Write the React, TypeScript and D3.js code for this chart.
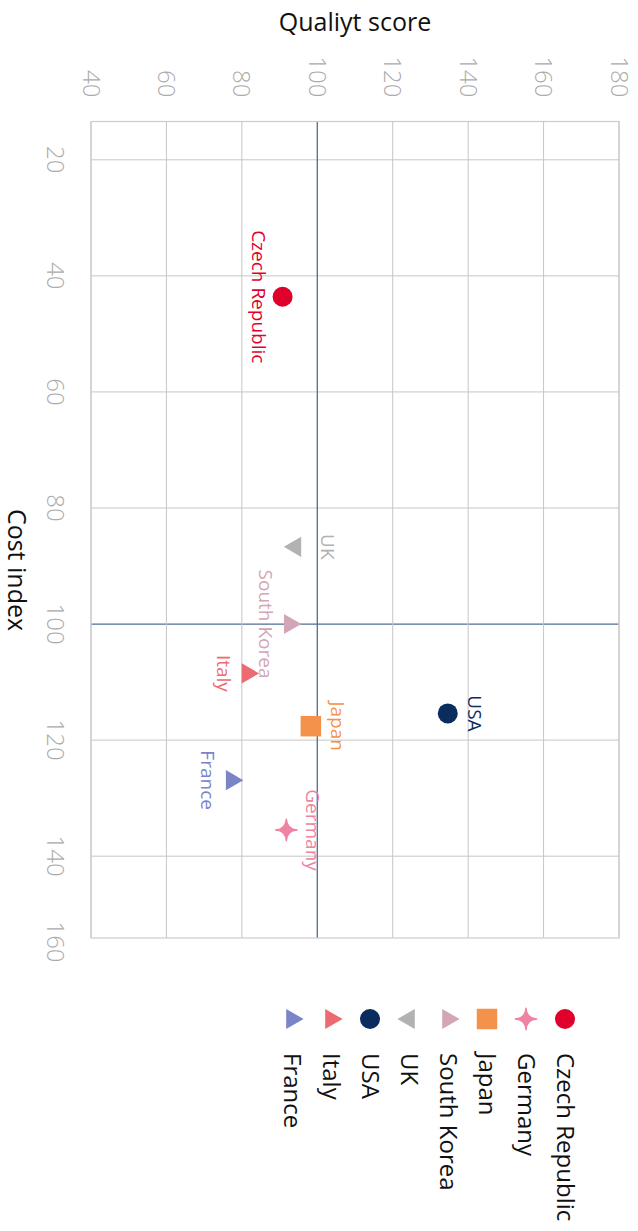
import * as d3 from "d3"
import { useEffect, useRef } from "react"

// Data (cost index on x, quality score on y)
const countries = ["Czech Republic", "Germany", "Japan", "South Korea", "UK", "USA", "Italy", "France"]
const costIndex = [43.6, 135.5, 117.6, 100.0, 86.7, 115.4, 108.5, 126.9]
const qualityScore = [90.8, 91.8, 98.3, 92.7, 94.2, 134.6, 81.5, 77.3]
const markerTypes = ["circle", "star", "square", "triangle-up", "triangle-down", "circle", "triangle-up", "triangle-up"]
const markerColors = ["#e0002b", "#f082a2", "#f4924c", "#d3a6b7", "#b2b2b2", "#0b2d5e", "#ec6b70", "#7a84c6"]
const labelSide = ["below", "above", "above", "below", "above", "above", "below", "below"]

const costTicks = [20, 40, 60, 80, 100, 120, 140, 160]
const qualityTicks = [40, 60, 80, 100, 120, 140, 160, 180]
const costDomain = [13.4, 154.1]
const qualityDomain = [40, 180]
const refCost = 100
const refQuality = 100

// four pointed star with concave sides
const symbolSparkle = {
  draw(context: d3.Path, size: number) {
    const r = Math.sqrt(size) * 0.55
    const k = r * 0.06
    context.moveTo(0, -r)
    context.quadraticCurveTo(k, -k, r, 0)
    context.quadraticCurveTo(k, k, 0, r)
    context.quadraticCurveTo(-k, k, -r, 0)
    context.quadraticCurveTo(-k, -k, 0, -r)
    context.closePath()
  },
}

const symbolFor = (type: string) => {
  switch (type) {
    case "circle":
      return d3.symbol(d3.symbolCircle, 314)()
    case "square":
      return d3.symbol(d3.symbolSquare, 420)()
    case "star":
      return d3.symbol(symbolSparkle as any, 380)()
    default:
      return d3.symbol(d3.symbolTriangle, 175)()
  }
}

const WIDTH = 638
const HEIGHT = 1231

const App = () => {
  const svgRef = useRef<SVGSVGElement | null>(null)

  useEffect(() => {
    if (!svgRef.current) return
    d3.select(svgRef.current).selectAll("*").remove()

    const font = "'Open Sans', sans-serif"

    // the chart is drawn in its unrotated frame (1231 x 638) and turned 90deg
    const svg = d3
      .select(svgRef.current)
      .attr("width", WIDTH)
      .attr("height", HEIGHT)
      .append("g")
      .attr("transform", `translate(${WIDTH},0) rotate(90)`)
      .style("font-family", font)

    const plot = { left: 121.5, right: 938, top: 19, bottom: 547 }

    const x = d3.scaleLinear().domain(costDomain).range([plot.left, plot.right])
    const y = d3.scaleLinear().domain(qualityDomain).range([plot.bottom, plot.top])

    // grid
    const grid = svg.append("g")
    grid
      .selectAll(".vgrid")
      .data(costTicks.filter(t => x(t) < plot.right))
      .enter()
      .append("line")
      .attr("x1", d => x(d))
      .attr("x2", d => x(d))
      .attr("y1", plot.top)
      .attr("y2", plot.bottom)
      .attr("stroke", d => (d === refCost ? "#4f6c96" : "#c6c6c6"))
      .attr("stroke-width", d => (d === refCost ? 1.3 : 1))

    grid
      .selectAll(".hgrid")
      .data(qualityTicks)
      .enter()
      .append("line")
      .attr("x1", plot.left)
      .attr("x2", plot.right)
      .attr("y1", d => y(d))
      .attr("y2", d => y(d))
      .attr("stroke", d => (d === refQuality ? "#4f6c96" : "#c6c6c6"))
      .attr("stroke-width", d => (d === refQuality ? 1.3 : 1))

    grid
      .append("rect")
      .attr("x", plot.left)
      .attr("y", plot.top)
      .attr("width", plot.right - plot.left)
      .attr("height", plot.bottom - plot.top)
      .attr("fill", "none")
      .attr("stroke", "#cccccc")
      .attr("stroke-width", 1.2)

    // tick labels
    svg
      .selectAll(".qtick")
      .data(qualityTicks)
      .enter()
      .append("text")
      .attr("x", plot.left - 24)
      .attr("y", d => y(d))
      .attr("dy", "0.35em")
      .attr("text-anchor", "end")
      .style("font-size", "24px")
      .style("font-weight", 300)
      .style("fill", "#ababab")
      .text(d => d)

    svg
      .selectAll(".ctick")
      .data(costTicks)
      .enter()
      .append("text")
      .attr("x", d => Math.min(x(d), plot.right + 4))
      .attr("y", plot.bottom + 44)
      .attr("text-anchor", "middle")
      .style("font-size", "24px")
      .style("font-weight", 300)
      .style("fill", "#ababab")
      .text(d => d)

    // axis titles
    svg
      .append("text")
      .attr("transform", `translate(31,${(plot.top + plot.bottom) / 2}) rotate(-90)`)
      .attr("text-anchor", "middle")
      .style("font-size", "25px")
      .style("fill", "#111")
      .text("Qualiyt score")

    svg
      .append("text")
      .attr("x", 570)
      .attr("y", 630)
      .attr("text-anchor", "middle")
      .style("font-size", "25px")
      .style("fill", "#111")
      .text("Cost index")

    // points
    const points = svg
      .selectAll(".pt")
      .data(countries)
      .enter()
      .append("g")
      .attr("transform", (_d, i) => `translate(${x(costIndex[i])},${y(qualityScore[i])})`)

    points
      .append("path")
      .attr("d", (_d, i) => symbolFor(markerTypes[i]))
      .attr("transform", (_d, i) => (markerTypes[i] === "triangle-down" ? "rotate(180)" : null))
      .attr("fill", (_d, i) => markerColors[i])
      .attr("stroke", (_d, i) => (markerTypes[i] === "star" ? markerColors[i] : "none"))
      .attr("stroke-width", 1.5)
      .attr("stroke-linejoin", "round")

    points
      .append("text")
      .attr("text-anchor", "middle")
      .attr("y", (_d, i) => {
        if (labelSide[i] === "below") return 31
        return markerTypes[i] === "triangle-down" ? -26 : -20
      })
      .style("font-size", "19px")
      .style("fill", (_d, i) => markerColors[i])
      .text(d => d)

    // legend
    const legend = svg
      .selectAll(".legend")
      .data(countries)
      .enter()
      .append("g")
      .attr("transform", (_d, i) => `translate(1019,${73 + i * 39})`)

    legend
      .append("path")
      .attr("d", (_d, i) => symbolFor(markerTypes[i]))
      .attr("transform", (_d, i) => (markerTypes[i] === "triangle-down" ? "rotate(180)" : null))
      .attr("fill", (_d, i) => markerColors[i])
      .attr("stroke", (_d, i) => (markerTypes[i] === "star" ? markerColors[i] : "none"))
      .attr("stroke-width", 1.5)
      .attr("stroke-linejoin", "round")

    legend
      .append("text")
      .attr("x", 34)
      .attr("dy", "0.35em")
      .style("font-size", "24px")
      .style("fill", "#111")
      .text(d => d)
  }, [])

  return (
    <div style={{ position: "absolute", left: 0, top: 0, width: WIDTH, height: HEIGHT, overflow: "hidden" }}>
      <svg ref={svgRef} width={WIDTH} height={HEIGHT} style={{ display: "block" }} />
    </div>
  )
}

export default App
